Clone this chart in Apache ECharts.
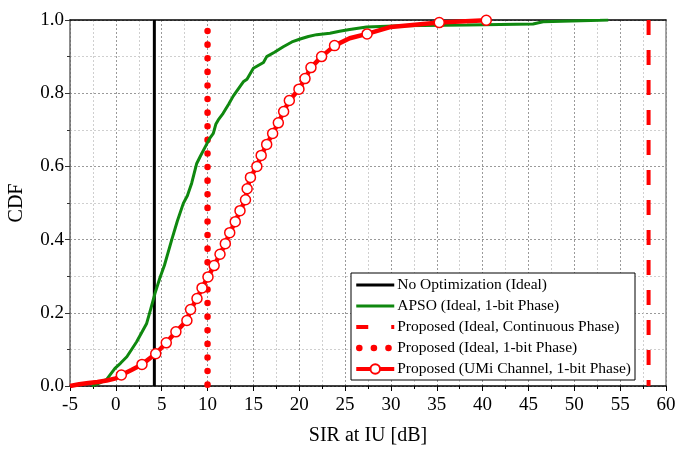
<!DOCTYPE html>
<html>
<head>
<meta charset="utf-8">
<script src="https://cdn.jsdelivr.net/npm/echarts@6/dist/echarts.min.js"></script>
<style>
  html, body { margin: 0; padding: 0; background: #fff; }
  #chart { width: 676px; height: 449px; }
</style>
</head>
<body>
<div id="chart"></div>
<script>
// values
const xTicks = [-5, 0, 5, 10, 15, 20, 25, 30, 35, 40, 45, 50, 55, 60];
const yTicks = [0, 0.2, 0.4, 0.6, 0.8, 1.0];

const seriesNames = [
  'No Optimization (Ideal)',
  'APSO (Ideal, 1-bit Phase)',
  'Proposed (Ideal, Continuous Phase)',
  'Proposed (Ideal, 1-bit Phase)',
  'Proposed (UMi Channel, 1-bit Phase)',
];

const noOptSIR = [4.2, 4.2];
const noOptCDF = [0, 1.0];

const contSIR = [58.1, 58.1];
const contCDF = [1.0, 0];

const oneBitSIR = [10, 10];
const oneBitCDF = [0.97, 0];

const apsoSIR = [-2.6, -1.8, -1, -0.1, 0.5, 1.2, 2.27, 3.36, 3.8, 4.27, 4.8, 5.3, 6.1, 6.7, 7.36, 7.8, 8.27,
  8.82, 9.2, 9.72, 10.2, 10.63, 10.9, 11.17, 11.7, 12.3, 12.8, 13.3, 13.9, 14.3, 15, 16.1, 16.45, 17.3,
  18.26, 19.2, 20.1, 21, 21.9, 23.35, 24.4, 25.5, 27.35, 31, 38.3, 45.5, 46.6, 52.8, 53.7];
const apsoCDF = [0, 0.008, 0.018, 0.048, 0.062, 0.08, 0.121, 0.171, 0.21, 0.253, 0.295, 0.33, 0.4, 0.45, 0.499, 0.52, 0.554,
  0.608, 0.627, 0.652, 0.675, 0.69, 0.715, 0.727, 0.745, 0.77, 0.792, 0.81, 0.831, 0.838, 0.868, 0.884, 0.9, 0.912,
  0.927, 0.94, 0.948, 0.955, 0.96, 0.964, 0.969, 0.974, 0.981, 0.984, 0.986, 0.989, 0.995, 0.999, 1.0];

const umiSIR = [-5, -4, -3, -2, -1, 0, 0.6, 1.7, 2.85, 4.35, 5.5, 6.55, 7.75, 8.15, 8.85, 9.4, 10.05, 10.72,
  11.36, 11.94, 12.42, 13.02, 13.54, 14.14, 14.32, 14.68, 15.38, 15.85, 16.45, 17.1, 17.72, 18.3, 18.92,
  19.97, 20.63, 21.28, 22.44, 23.85, 25.5, 27.4, 30, 35.27, 40.4, 40.6];
const umiCDF = [0, 0.005, 0.008, 0.011, 0.015, 0.021, 0.03, 0.044, 0.059, 0.088, 0.118, 0.148, 0.179, 0.209, 0.239, 0.268, 0.298, 0.329,
  0.36, 0.389, 0.419, 0.449, 0.479, 0.509, 0.539, 0.57, 0.6, 0.63, 0.66, 0.69, 0.719, 0.75, 0.78,
  0.811, 0.84, 0.87, 0.9, 0.93, 0.95, 0.962, 0.981, 0.993, 0.999, 1.0];
// 1 = open-circle marker drawn at that point
const umiMarked = [0, 0, 0, 0, 0, 0, 1, 0, 1, 1, 1, 1, 1, 1, 1, 1, 1, 1,
  1, 1, 1, 1, 1, 1, 1, 1, 1, 1, 1, 1, 1, 1, 1,
  1, 1, 1, 1, 1, 0, 1, 0, 1, 1, 0];

const FONT = '"Liberation Serif", "DejaVu Serif", serif';
const RED = '#ff0000';
const GREEN = '#0f880f';

const pairs = (xs, ys) => xs.map((x, i) => [x, ys[i]]);

const chart = echarts.init(document.getElementById('chart'), null, { renderer: 'canvas' });

const gridDash = { color: '#9a9a9a', type: [2, 2], width: 1 };
const minorDash = { color: '#cfcfcf', type: [2, 2], width: 1 };

const noMarker = { opacity: 0 };

const option = {
  animation: false,
  textStyle: { fontFamily: FONT, color: '#000' },
  grid: { left: 70, right: 10, top: 20, bottom: 63, outerBoundsMode: 'none' },
  legend: {
    orient: 'vertical',
    left: 351,
    top: 273,
    padding: [4, 4, 3, 2],
    itemGap: 5,
    itemWidth: 38,
    itemHeight: 12,
    backgroundColor: '#fff',
    borderColor: '#000',
    borderWidth: 1,
    borderRadius: 0,
    textStyle: { fontFamily: FONT, fontSize: 15.5, color: '#000', padding: [0, 0, 0, -2] },
    data: [
      { name: seriesNames[0], itemStyle: noMarker, lineStyle: { width: 3 } },
      { name: seriesNames[1], itemStyle: noMarker, lineStyle: { width: 3 } },
      { name: seriesNames[2], itemStyle: noMarker, lineStyle: { type: [12, 23], width: 4 } },
      { name: seriesNames[3], itemStyle: noMarker, lineStyle: { type: [0.1, 14.5], width: 6.5, cap: 'round', dashOffset: -3 } },
      { name: seriesNames[4], lineStyle: { width: 4 } },
    ],
  },
  xAxis: [
    {
      type: 'value',
      min: -5,
      max: 60,
      interval: 5,
      name: 'SIR at IU [dB]',
      nameLocation: 'middle',
      nameGap: 40,
      nameTextStyle: { fontFamily: FONT, fontSize: 20, color: '#000' },
      axisLine: { onZero: false, lineStyle: { color: '#000', width: 1.5 } },
      axisTick: { show: true, inside: false, length: 5, lineStyle: { color: '#000' } },
      minorTick: { show: true, splitNumber: 2, length: 3, lineStyle: { color: '#000' } },
      axisLabel: { fontFamily: FONT, fontSize: 19, color: '#000', margin: 10,
        formatter: (v) => (xTicks.includes(v) ? String(v) : '') },
      splitLine: { show: true, lineStyle: gridDash },
      minorSplitLine: { show: true, lineStyle: minorDash },
    },
    {
      type: 'value',
      position: 'top',
      min: -5,
      max: 60,
      interval: 5,
      axisLine: { show: true, onZero: false, lineStyle: { color: '#000', width: 1.5 } },
      axisTick: { show: false },
      axisLabel: { show: false },
      splitLine: { show: false },
    },
  ],
  yAxis: [
    {
      type: 'value',
      min: 0,
      max: 1,
      interval: 0.2,
      name: 'CDF',
      nameLocation: 'middle',
      nameGap: 43,
      nameTextStyle: { fontFamily: FONT, fontSize: 20, color: '#000' },
      axisLine: { show: true, onZero: false, lineStyle: { color: '#666', width: 1.5 } },
      axisTick: { show: true, length: 5, lineStyle: { color: '#333' } },
      minorTick: { show: true, splitNumber: 2, length: 3, lineStyle: { color: '#333' } },
      axisLabel: { fontFamily: FONT, fontSize: 19, color: '#000', margin: 6,
        formatter: (v) => (yTicks.some((t) => Math.abs(t - v) < 1e-9) ? v.toFixed(1) : '') },
      splitLine: { show: true, lineStyle: gridDash },
      minorSplitLine: { show: true, lineStyle: minorDash },
    },
    {
      type: 'value',
      position: 'right',
      min: 0,
      max: 1,
      interval: 0.2,
      axisLine: { show: true, onZero: false, lineStyle: { color: '#888', width: 1.5 } },
      axisTick: { show: false },
      axisLabel: { show: false },
      splitLine: { show: false },
    },
  ],
  series: [
    {
      name: seriesNames[0],
      type: 'line',
      data: pairs(noOptSIR, noOptCDF),
      symbol: 'none',
      lineStyle: { color: '#000', width: 3 },
      itemStyle: { color: '#000' },
      z: 3,
    },
    {
      name: seriesNames[1],
      type: 'line',
      data: pairs(apsoSIR, apsoCDF),
      symbol: 'none',
      lineStyle: { color: GREEN, width: 3 },
      itemStyle: { color: GREEN },
      z: 4,
    },
    {
      name: seriesNames[2],
      type: 'line',
      data: pairs(contSIR, contCDF),
      symbol: 'none',
      lineStyle: { color: RED, width: 4, type: [15, 15] },
      itemStyle: { color: RED },
      z: 3,
    },
    {
      name: seriesNames[3],
      type: 'line',
      data: pairs(oneBitSIR, oneBitCDF),
      symbol: 'none',
      lineStyle: { color: RED, width: 6.5, type: [0.1, 13.5], cap: 'round' },
      itemStyle: { color: RED },
      z: 3,
    },
    {
      name: seriesNames[4],
      type: 'line',
      data: umiSIR.map((x, i) => ({
        value: [x, umiCDF[i]],
        symbol: umiMarked[i] ? 'circle' : 'none',
      })),
      symbol: 'circle',
      symbolSize: 10,
      showAllSymbol: true,
      lineStyle: { color: RED, width: 4.5 },
      itemStyle: { color: '#fff', borderColor: RED, borderWidth: 1.5 },
      z: 5,
    },
  ],
};

chart.setOption(option);
</script>
</body>
</html>
